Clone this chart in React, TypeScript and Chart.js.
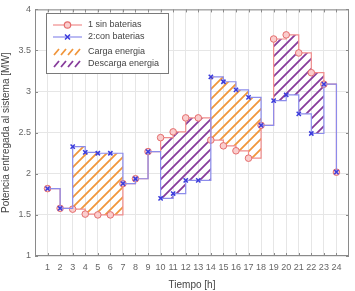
import React, { useEffect, useRef } from "react";
import { Chart, registerables } from "chart.js";

Chart.register(...registerables);

const hours = [1, 2, 3, 4, 5, 6, 7, 8, 9, 10, 11, 12, 13, 14, 15, 16, 17, 18, 19, 20, 21, 22, 23, 24];
const sinBaterias = [1.82, 1.58, 1.57, 1.51, 1.5, 1.5, 1.88, 1.94, 2.27, 2.44, 2.51, 2.68, 2.68, 2.41, 2.34, 2.28, 2.19, 2.59, 3.64, 3.69, 3.47, 3.23, 3.09, 2.02];
const conBaterias = [1.82, 1.58, 2.33, 2.26, 2.25, 2.25, 1.88, 1.94, 2.27, 1.7, 1.76, 1.92, 1.92, 3.18, 3.12, 3.02, 2.93, 2.59, 2.89, 2.96, 2.73, 2.49, 3.09, 2.02];
const cargaIntervals = [[3, 7], [14, 18]];
const descargaIntervals = [[10, 14], [19, 23]];
const yTicks = [1, 1.5, 2, 2.5, 3, 3.5, 4];
const legendLabels = ["1 sin baterias", "2:con baterias", "Carga energia", "Descarga energia"];
const xTitle = "Tiempo [h]";
const yTitle = "Potencia entregada al sistema [MW]";

const RED_LINE = "rgb(240,140,140)";
const RED_EDGE = "rgb(228,110,110)";
const RED_FILL = "rgb(250,205,205)";
const BLUE_LINE = "rgb(140,140,235)";
const BLUE_MARK = "rgb(60,60,220)";
const ORANGE = "rgb(240,150,60)";
const PURPLE = "rgb(135,60,155)";
const FONT = "'Liberation Sans', Arial, sans-serif";

function makeHatch(ctx: CanvasRenderingContext2D, color: string) {
  const size = 10;
  const c = document.createElement("canvas");
  c.width = size;
  c.height = size;
  const g = c.getContext("2d")!;
  g.strokeStyle = color;
  g.lineWidth = 1.8;
  g.beginPath();
  g.moveTo(0, size);
  g.lineTo(size, 0);
  g.moveTo(-size / 2, size / 2);
  g.lineTo(size / 2, -size / 2);
  g.moveTo(size / 2, size * 1.5);
  g.lineTo(size * 1.5, size / 2);
  g.stroke();
  return ctx.createPattern(c, "repeat")!;
}

function patch(series: number[], a: number, b: number) {
  const pts: { x: number; y: number }[] = [];
  for (let h = a; h <= b; h++) {
    const idx = hours.indexOf(h < b ? h : b - 1);
    pts.push({ x: h, y: series[idx] });
  }
  return pts;
}

const boxPlugin = {
  id: "boxPlugin",
  afterDraw(chart: any) {
    const { ctx, chartArea: ca, scales } = chart;
    ctx.save();
    ctx.strokeStyle = "#8a8a8a";
    ctx.lineWidth = 1;
    ctx.strokeRect(ca.left + 0.5, ca.top + 0.5, ca.right - ca.left - 1, ca.bottom - ca.top - 1);
    ctx.beginPath();
    for (const h of hours) {
      const x = Math.round(scales.x.getPixelForValue(h)) + 0.5;
      ctx.moveTo(x, ca.bottom);
      ctx.lineTo(x, ca.bottom - 3);
      ctx.moveTo(x, ca.top);
      ctx.lineTo(x, ca.top + 3);
    }
    for (const v of yTicks) {
      const y = Math.round(scales.y.getPixelForValue(v)) + 0.5;
      ctx.moveTo(ca.left, y);
      ctx.lineTo(ca.left + 3, y);
      ctx.moveTo(ca.right, y);
      ctx.lineTo(ca.right - 3, y);
    }
    ctx.stroke();

    // legend
    const lx = 46, ly = 13, lw = 122, lh = 60;
    ctx.fillStyle = "#fff";
    ctx.fillRect(lx, ly, lw, lh);
    ctx.strokeStyle = "#7a7a7a";
    ctx.strokeRect(lx + 0.5, ly + 0.5, lw, lh);
    const rows = [25, 37, 52, 64];
    ctx.font = `9px ${FONT}`;
    ctx.textBaseline = "middle";
    ctx.textAlign = "left";
    rows.forEach((ry, i) => {
      ctx.fillStyle = "#444";
      ctx.fillText(legendLabels[i], 88, ry);
      if (i < 2) {
        ctx.strokeStyle = i === 0 ? RED_LINE : BLUE_LINE;
        ctx.lineWidth = 1.2;
        ctx.beginPath();
        ctx.moveTo(53, ry);
        ctx.lineTo(82, ry);
        ctx.stroke();
        if (i === 0) {
          ctx.fillStyle = RED_FILL;
          ctx.strokeStyle = RED_EDGE;
          ctx.beginPath();
          ctx.arc(67.5, ry, 3.2, 0, Math.PI * 2);
          ctx.fill();
          ctx.stroke();
        } else {
          ctx.strokeStyle = BLUE_MARK;
          ctx.lineWidth = 1.5;
          ctx.beginPath();
          ctx.moveTo(65, ry - 2.5);
          ctx.lineTo(70, ry + 2.5);
          ctx.moveTo(70, ry - 2.5);
          ctx.lineTo(65, ry + 2.5);
          ctx.stroke();
        }
      } else {
        ctx.strokeStyle = i === 2 ? ORANGE : PURPLE;
        ctx.lineWidth = 1.8;
        ctx.beginPath();
        for (let k = 0; k < 4; k++) {
          const x0 = 54 + k * 7;
          ctx.moveTo(x0, ry + 3);
          ctx.lineTo(x0 + 5, ry - 3);
        }
        ctx.stroke();
      }
    });
    ctx.restore();
  },
};

export default function App() {
  const ref = useRef<HTMLCanvasElement>(null);
  useEffect(() => {
    const canvas = ref.current!;
    const ctx = canvas.getContext("2d")!;
    const orangePat = makeHatch(ctx, ORANGE);
    const purplePat = makeHatch(ctx, PURPLE);

    const patchSets: any[] = [];
    const addPatch = (topS: number[], botS: number[], a: number, b: number, pat: CanvasPattern) => {
      patchSets.push({
        data: patch(topS, a, b),
        stepped: "before",
        borderWidth: 0,
        pointRadius: 0,
        fill: "+1",
        backgroundColor: pat,
        borderColor: "rgba(0,0,0,0)",
      });
      patchSets.push({
        data: patch(botS, a, b),
        stepped: "before",
        borderWidth: 0,
        pointRadius: 0,
        fill: false,
        borderColor: "rgba(0,0,0,0)",
      });
    };
    cargaIntervals.forEach(([a, b]) => addPatch(conBaterias, sinBaterias, a, b, orangePat));
    descargaIntervals.forEach(([a, b]) => addPatch(sinBaterias, conBaterias, a, b, purplePat));

    const chart = new Chart(canvas, {
      type: "line",
      data: {
        datasets: [
          {
            label: legendLabels[1],
            data: hours.map((h, i) => ({ x: h, y: conBaterias[i] })),
            stepped: "before",
            borderColor: BLUE_LINE,
            borderWidth: 1.2,
            pointStyle: "crossRot",
            pointRadius: 3,
            pointBorderColor: BLUE_MARK,
            pointBorderWidth: 1.5,
            fill: false,
          },
          {
            label: legendLabels[0],
            data: hours.map((h, i) => ({ x: h, y: sinBaterias[i] })),
            stepped: "before",
            borderColor: RED_LINE,
            borderWidth: 1.2,
            pointStyle: "circle",
            pointRadius: 3.3,
            pointBackgroundColor: RED_FILL,
            pointBorderColor: RED_EDGE,
            pointBorderWidth: 1,
            fill: false,
          },
          ...patchSets,
        ],
      } as any,
      options: {
        animation: false,
        responsive: false,
        events: [],
        layout: { padding: { top: 5, right: 6, left: 0, bottom: 0 } },
        plugins: { legend: { display: false }, tooltip: { enabled: false } },
        scales: {
          x: {
            type: "linear",
            min: 0,
            max: 25,
            afterFit: (s: any) => { s.height = 35; },
            afterBuildTicks: (s: any) => { s.ticks = hours.map((h) => ({ value: h })); },
            grid: { color: "#e6e6e6", drawTicks: false },
            border: { display: false },
            ticks: {
              padding: 6,
              color: "#666",
              font: { size: 9, family: FONT },
              maxRotation: 0,
              autoSkip: false,
              callback: (v: any) => String(v),
            },
            title: {
              display: true,
              text: xTitle,
              color: "#444",
              font: { size: 10, family: FONT },
              padding: { top: 2, bottom: 0 },
            },
          },
          y: {
            type: "linear",
            min: 1,
            max: 4,
            afterFit: (s: any) => { s.width = 35; },
            afterBuildTicks: (s: any) => { s.ticks = yTicks.map((v) => ({ value: v })); },
            grid: { color: "#e6e6e6", drawTicks: false },
            border: { display: false },
            ticks: {
              padding: 4,
              color: "#666",
              font: { size: 9, family: FONT },
              callback: (v: any) => String(v),
            },
            title: {
              display: true,
              text: yTitle,
              color: "#444",
              font: { size: 10, family: FONT },
              padding: { top: 0, bottom: 2 },
            },
          },
        },
      } as any,
      plugins: [boxPlugin],
    });
    return () => chart.destroy();
  }, []);
  return (
    <div style={{ position: "fixed", left: 0, top: 0, width: 355, height: 291, background: "#fff" }}>
      <canvas ref={ref} width={355} height={291} style={{ width: 355, height: 291 }} />
    </div>
  );
}
